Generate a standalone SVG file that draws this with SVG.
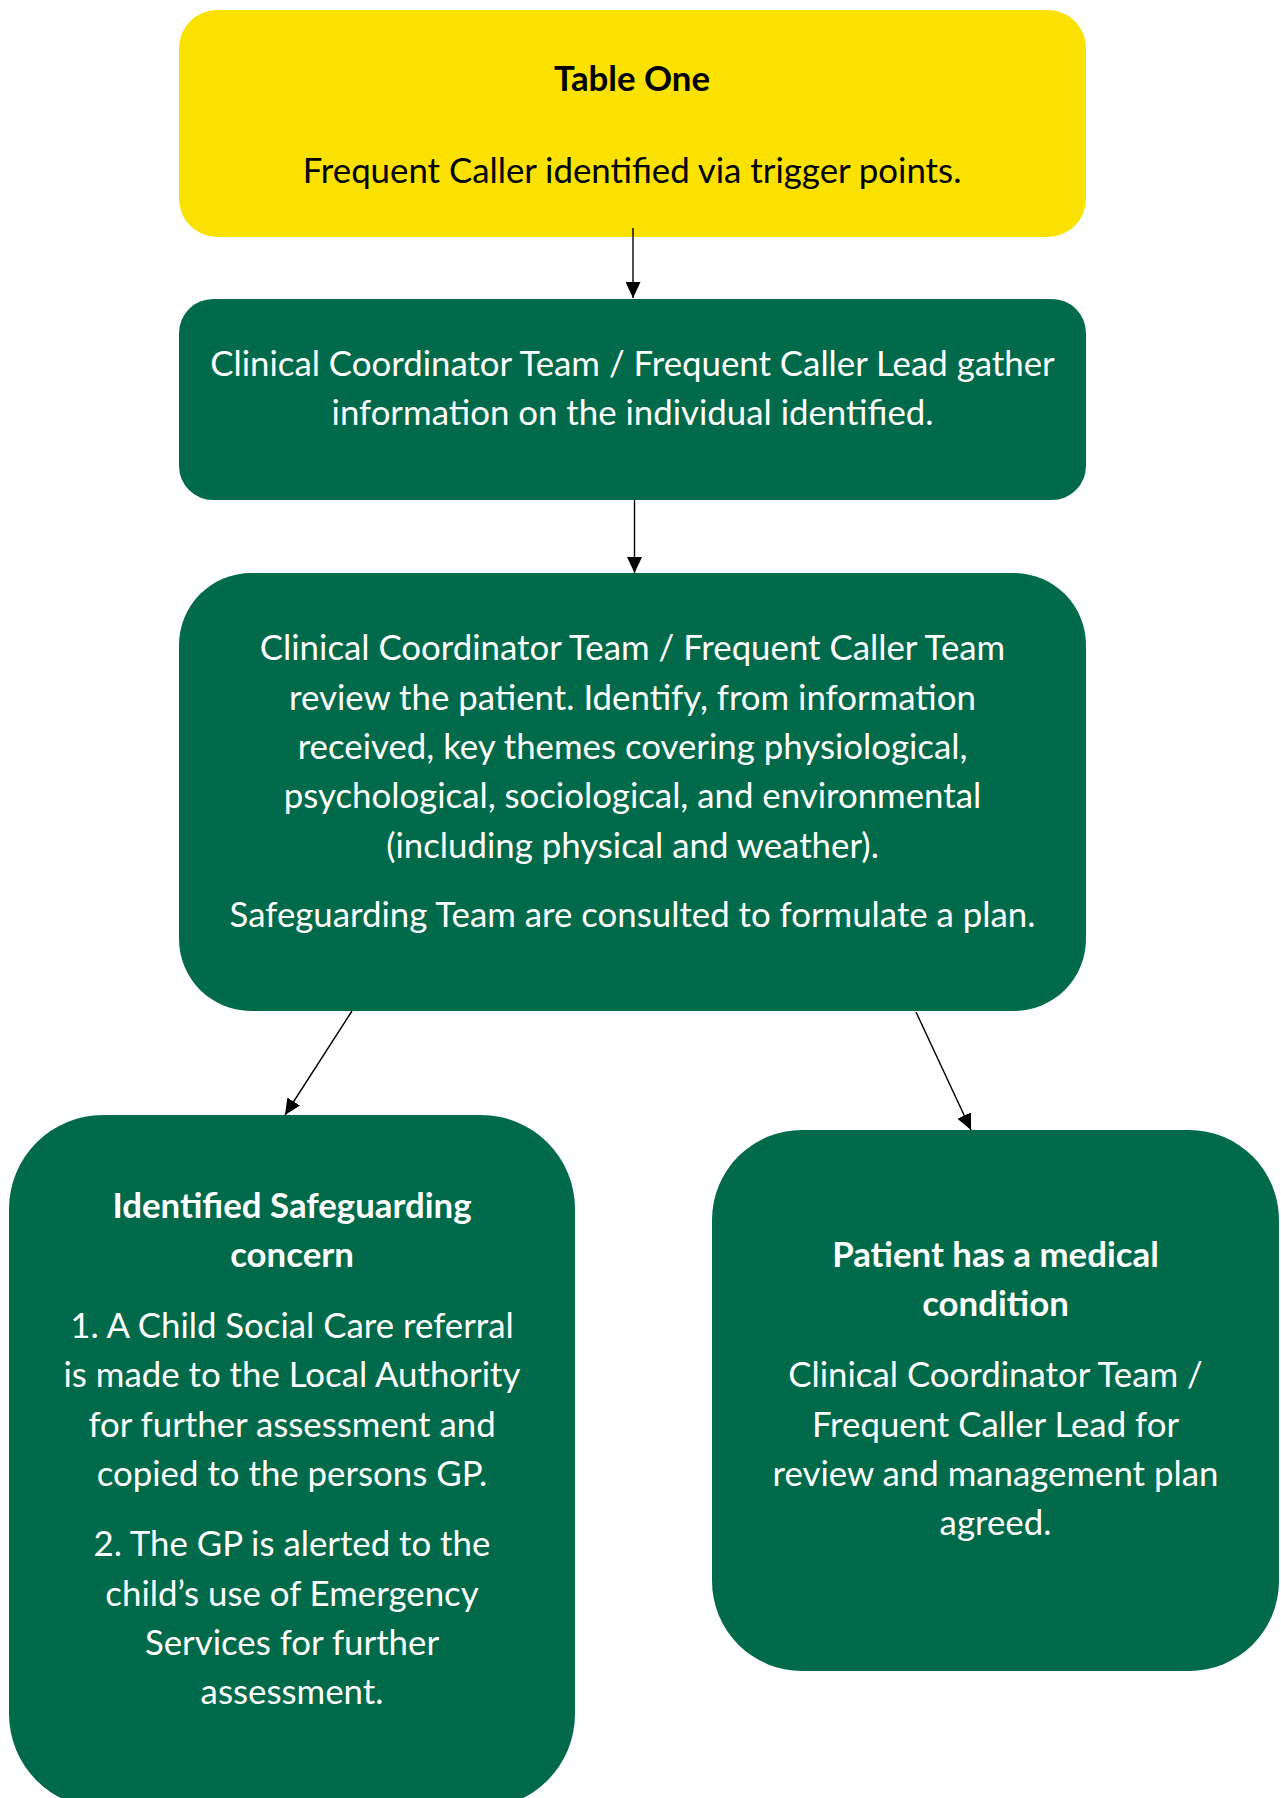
<svg xmlns="http://www.w3.org/2000/svg" width="1281" height="1798" viewBox="0 0 1281 1798">
<style>
.t{font-family:Lato,"Liberation Sans",sans-serif;font-size:34.8px;text-anchor:middle;fill:#ffffff}
.b{font-weight:bold}
.k{fill:#000000}
.g{fill:#006A4A}
.y{fill:#FAE100}
.c{stroke:#000;stroke-width:1.4;fill:none;marker-end:url(#ah)}
</style>
<defs>
<marker id="ah" markerUnits="userSpaceOnUse" markerWidth="16" markerHeight="15" refX="16" refY="7.5" orient="auto">
<path d="M0,0 L16,7.5 L0,15 z" fill="#000"/>
</marker>
</defs>
<rect width="1281" height="1798" fill="#fff"/>
<g id="n1">
<rect class="y" x="179" y="10" width="907" height="227" rx="38"/>
<text class="t k b" x="632" y="91">Table One</text>
<text class="t k" x="632" y="183">Frequent Caller identified via trigger points.</text>
</g>
<g id="n2">
<rect class="g" x="179" y="299" width="907" height="201" rx="34"/>
<text class="t" x="632.5" y="376">Clinical Coordinator Team / Frequent Caller Lead gather</text>
<text class="t" x="632.5" y="425">information on the individual identified.</text>
</g>
<g id="n3">
<rect class="g" x="179" y="573" width="907" height="438" rx="72"/>
<text class="t" x="632.5" y="660">Clinical Coordinator Team / Frequent Caller Team</text>
<text class="t" x="632.5" y="709.5">review the patient. Identify, from information</text>
<text class="t" x="632.5" y="759">received, key themes covering physiological,</text>
<text class="t" x="632.5" y="808">psychological, sociological, and environmental</text>
<text class="t" x="632.5" y="857.5">(including physical and weather).</text>
<text class="t" x="632.5" y="927">Safeguarding Team are consulted to formulate a plan.</text>
</g>
<g id="n4">
<rect class="g" x="9" y="1115" width="566" height="693" rx="94"/>
<text class="t b" x="292" y="1218">Identified Safeguarding</text>
<text class="t b" x="292" y="1267">concern</text>
<text class="t" x="292" y="1338">1. A Child Social Care referral</text>
<text class="t" x="292" y="1387">is made to the Local Authority</text>
<text class="t" x="292" y="1437">for further assessment and</text>
<text class="t" x="292" y="1486">copied to the persons GP.</text>
<text class="t" x="292" y="1556">2. The GP is alerted to the</text>
<text class="t" x="292" y="1606">child’s use of Emergency</text>
<text class="t" x="292" y="1655">Services for further</text>
<text class="t" x="292" y="1704">assessment.</text>
</g>
<g id="n5">
<rect class="g" x="712" y="1130" width="567" height="541" rx="90"/>
<text class="t b" x="995.5" y="1267">Patient has a medical</text>
<text class="t b" x="995.5" y="1316">condition</text>
<text class="t" x="995.5" y="1387">Clinical Coordinator Team /</text>
<text class="t" x="995.5" y="1437">Frequent Caller Lead for</text>
<text class="t" x="995.5" y="1486">review and management plan</text>
<text class="t" x="995.5" y="1535">agreed.</text>
</g>
<g id="connectors">
<line class="c" x1="633" y1="228" x2="633" y2="298"/>
<line class="c" x1="634.5" y1="500" x2="634.5" y2="573"/>
<line class="c" x1="352" y1="1011" x2="285" y2="1115"/>
<line class="c" x1="916" y1="1012" x2="971" y2="1130"/>
</g>
</svg>
